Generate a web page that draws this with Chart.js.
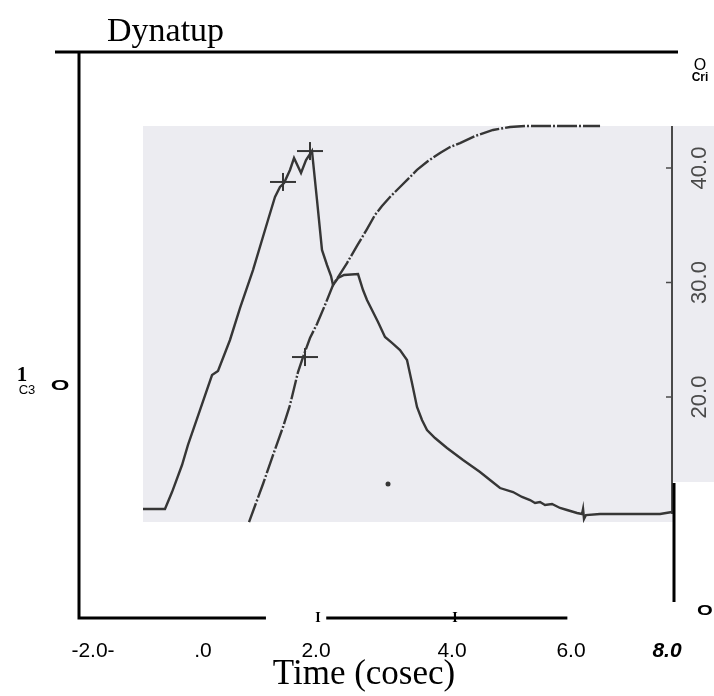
<!DOCTYPE html>
<html>
<head>
<meta charset="utf-8">
<script src="https://cdn.jsdelivr.net/npm/chart.js@4/dist/chart.umd.min.js"></script>
<style>
html,body{margin:0;padding:0;background:#fff;}
#wrap{width:714px;height:696px;position:relative;}
</style>
</head>
<body>
<div id="wrap"><canvas id="c" width="714" height="696"></canvas></div>
<script>
// ---- data (time in ms, values on the scanned 0-50 axis) ----
const loadTime = [-0.555,-0.234,-0.131,0.015,0.102,0.277,0.453,0.540,0.715,0.861,1.051,1.270,1.372,1.445,1.504,1.591,1.650,1.752,1.825,1.912,1.985,2.058,2.131,2.190,2.219,2.292,2.380,2.584,2.657,2.715,2.876,2.978,3.080,3.197,3.299,3.372,3.445,3.518,3.591,3.708,3.883,4.117,4.365,4.511,4.657,4.847,4.978,5.095,5.168,5.241,5.314,5.416,5.533,5.635,5.781,5.854,5.869,5.883,5.912,6.117,6.409,6.701,6.993,7.168];
const loadValue = [10.22,10.22,11.70,14.06,15.81,18.86,21.92,22.27,24.98,27.77,31.09,35.46,37.47,38.34,38.69,39.83,40.87,39.56,40.70,41.48,37.21,32.84,31.53,30.57,29.78,30.39,30.66,30.74,29.34,28.47,26.55,25.24,24.72,24.10,23.23,21.22,19.13,17.99,17.12,16.42,15.55,14.50,13.45,12.75,12.05,11.70,11.27,11.00,10.74,10.83,10.57,10.66,10.31,10.13,9.87,9.78,10.22,9.34,9.69,9.78,9.78,9.78,9.78,9.96];
const energyTime = [0.993,1.095,1.197,1.328,1.489,1.591,1.708,1.781,1.883,1.985,2.102,2.219,2.321,2.423,2.569,2.715,2.832,2.934,3.051,3.197,3.343,3.445,3.606,3.781,3.927,4.073,4.292,4.555,4.803,5.022,5.241,5.533,5.825,6.117];
const energyValue = [9.08,10.74,12.40,14.67,17.38,19.30,22.18,23.49,25.15,26.38,28.03,29.78,30.74,31.70,33.19,34.67,35.90,36.68,37.47,38.34,39.21,39.83,40.61,41.31,41.83,42.18,42.79,43.32,43.58,43.67,43.67,43.67,43.67,43.67];
const crossTime = [1.489,1.883,1.810];
const crossValue = [38.78,41.48,23.49];
const dotTime = [3.022];
const dotValue = [12.40];
const xTickValues = [-1.285,0.321,1.971,3.956,5.693,7.095];
const xTickLabels = ['-2.0-','.0','2.0','4.0','6.0','8.0'];
const xMarkValues = [2.0,4.0];
const yTickValues = [20,30,40];
const yTickLabels = ['20.0','30.0','40.0'];
const titleText = 'Dynatup';
const xAxisTitle = 'Time (cosec)';

const pts = (xs, ys) => xs.map((v, i) => ({x: v, y: ys[i]}));
const INK = '#363636';

const decor = {
  id: 'decor',
  beforeDatasetsDraw(chart) {
    const {ctx, chartArea: ca, scales: {y}} = chart;
    ctx.save();
    // scanned paper
    const sTop = ca.top + 74, sLeft = ca.left + 64, sBottom = ca.bottom - 96;
    ctx.fillStyle = '#ececf1';
    ctx.fillRect(sLeft, sTop, ca.right - sLeft, sBottom - sTop);
    ctx.fillRect(ca.right, sTop, chart.width - ca.right, (ca.bottom - 136) - sTop);
    // scanned right axis
    ctx.strokeStyle = '#4a4a4a';
    ctx.lineWidth = 2;
    ctx.beginPath();
    ctx.moveTo(ca.right - 1, sTop);
    ctx.lineTo(ca.right - 1, sBottom - 8);
    ctx.stroke();
    ctx.lineWidth = 1.5;
    yTickValues.forEach(v => {
      const py = y.getPixelForValue(v);
      ctx.beginPath();
      ctx.moveTo(ca.right - 7, py);
      ctx.lineTo(ca.right - 1, py);
      ctx.stroke();
    });
    ctx.fillStyle = '#4a4a4a';
    ctx.font = '22px "Liberation Sans"';
    ctx.textAlign = 'center';
    ctx.textBaseline = 'middle';
    yTickValues.forEach((v, i) => {
      ctx.save();
      ctx.translate(ca.right + 27, y.getPixelForValue(v));
      ctx.rotate(-Math.PI / 2);
      ctx.fillText(yTickLabels[i], 0, 0);
      ctx.restore();
    });
    ctx.restore();
  },
  afterDatasetsDraw(chart) {
    const {ctx, chartArea: ca, scales: {x}} = chart;
    ctx.save();
    ctx.strokeStyle = '#000';
    ctx.lineWidth = 3;
    ctx.beginPath();
    // top rule
    ctx.moveTo(ca.left - 24, ca.top);
    ctx.lineTo(ca.right + 5, ca.top);
    // left axis
    ctx.moveTo(ca.left, ca.top);
    ctx.lineTo(ca.left, ca.bottom + 1.5);
    // bottom axis (broken)
    ctx.moveTo(ca.left, ca.bottom);
    ctx.lineTo(x.getPixelForValue(1.24), ca.bottom);
    ctx.moveTo(x.getPixelForValue(2.12), ca.bottom);
    ctx.lineTo(x.getPixelForValue(5.64), ca.bottom);
    // right short rule
    ctx.moveTo(ca.right + 1, ca.bottom - 135);
    ctx.lineTo(ca.right + 1, ca.bottom - 16);
    ctx.stroke();

    ctx.fillStyle = '#000';
    ctx.textBaseline = 'alphabetic';
    // title
    ctx.textAlign = 'left';
    ctx.font = '34px "Liberation Serif"';
    ctx.fillText(titleText, 107, 41);
    // axis title
    ctx.textAlign = 'center';
    ctx.font = '35px "Liberation Serif"';
    ctx.fillText(xAxisTitle, 364, 684);
    // tick labels
    xTickValues.forEach((v, i) => {
      ctx.font = i === xTickLabels.length - 1 ? 'italic bold 21px "Liberation Sans"' : '21px "Liberation Sans"';
      ctx.fillText(xTickLabels[i], x.getPixelForValue(v), ca.bottom + 39);
    });
    // small I marks
    ctx.font = 'bold 14px "Liberation Serif"';
    xMarkValues.forEach(v => ctx.fillText('I', x.getPixelForValue(v), ca.bottom + 4));
    // top-right marks
    ctx.font = '16px "Liberation Sans"';
    ctx.fillText('O', 700, 70);
    ctx.font = 'bold 12px "Liberation Sans"';
    ctx.fillText('Cri', 700, 81);
    // left marks
    ctx.font = 'bold 21px "Liberation Serif"';
    ctx.fillText('1', 22, 381);
    ctx.font = '13px "Liberation Sans"';
    ctx.fillText('C3', 27, 394);
    ctx.save();
    ctx.translate(60, 390);
    ctx.scale(1.6, 1);
    ctx.font = 'bold 15px "Liberation Sans"';
    ctx.fillText('O', 0, 0);
    ctx.restore();
    ctx.save();
    ctx.translate(705, 615);
    ctx.scale(1.35, 1);
    ctx.font = 'bold 15px "Liberation Sans"';
    ctx.fillText('O', 0, 0);
    ctx.restore();
    ctx.restore();
  }
};

new Chart(document.getElementById('c'), {
  type: 'scatter',
  data: {
    datasets: [
      {label: 'Energy', data: pts(energyTime, energyValue), showLine: true, borderColor: INK, borderWidth: 2.4, borderDash: [20, 2, 2, 2], pointRadius: 0, tension: 0},
      {label: 'Load', data: pts(loadTime, loadValue), showLine: true, borderColor: INK, borderWidth: 2.4, pointRadius: 0, tension: 0},
      {label: 'Marker h', data: pts(crossTime, crossValue), showLine: false, pointStyle: 'line', pointRadius: 13, pointBorderWidth: 2, pointBorderColor: INK, pointBackgroundColor: INK},
      {label: 'Marker v', data: pts(crossTime, crossValue), showLine: false, pointStyle: 'line', rotation: 90, pointRadius: 9, pointBorderWidth: 2, pointBorderColor: INK, pointBackgroundColor: INK},
      {label: 'Spot', data: pts(dotTime, dotValue), showLine: false, pointStyle: 'circle', pointRadius: 2.5, pointBorderWidth: 0, pointBackgroundColor: INK}
    ]
  },
  options: {
    responsive: false,
    animation: false,
    events: [],
    layout: {padding: {left: 79, top: 52, right: 41, bottom: 78}},
    plugins: {legend: {display: false}, title: {display: false}, tooltip: {enabled: false}},
    scales: {
      x: {type: 'linear', display: false, min: -1.489, max: 7.182},
      y: {type: 'linear', display: false, min: 0.70, max: 50.13}
    }
  },
  plugins: [decor]
});
</script>
</body>
</html>
